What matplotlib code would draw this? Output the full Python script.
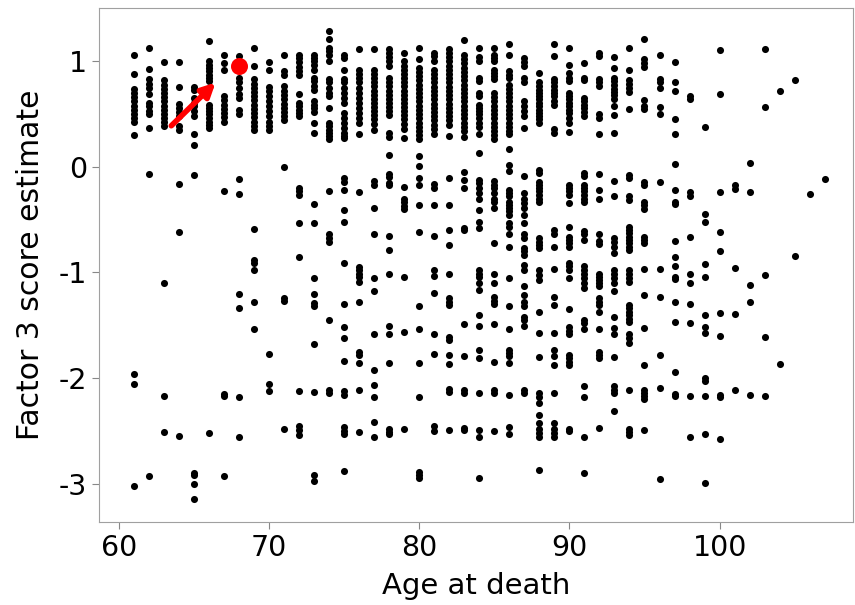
import matplotlib
matplotlib.use("Agg")
import matplotlib.pyplot as plt

plt.rcParams['axes.unicode_minus'] = False

# factor 3 score estimates, grouped by age at death
ages = list(range(61, 108))
scores = [
    [1.06, 0.88, 0.74, 0.70, 0.66, 0.62, 0.58, 0.54, 0.50, 0.46, 0.43, 0.30, -1.96, -2.06, -3.02],  # 61
    [1.125, 0.93, 0.83, 0.79, 0.75, 0.69, 0.61, 0.575, 0.53, 0.50, 0.37, -0.07, -2.93],  # 62
    [0.99, 0.82, 0.78, 0.74, 0.70, 0.66, 0.62, 0.58, 0.54, 0.50, 0.46, 0.43, 0.385, -1.10, -2.17, -2.51],  # 63
    [0.99, 0.755, 0.60, 0.56, 0.52, 0.48, 0.385, 0.35, -0.16, -0.62, -2.55],  # 64
    [0.76, 0.73, 0.65, 0.61, 0.575, 0.53, 0.48, 0.31, 0.21, -0.08, -2.90, -2.92, -3.0, -3.15],  # 65
    [1.19, 1.0, 0.97, 0.94, 0.91, 0.875, 0.84, 0.81, 0.59, 0.56, 0.53, 0.50, 0.46, 0.43, 0.40, 0.37, -2.52],  # 66
    [1.06, 0.985, 0.916, 0.67, 0.63, 0.59, 0.55, 0.51, 0.47, 0.43, -0.23, -2.15, -2.17, -2.93],  # 67
    [1.05, 0.84, 0.80, 0.75, 0.69, 0.65, 0.54, 0.50, -0.11, -0.255, -1.20, -1.34, -2.18, -2.56],  # 68
    [1.13, 0.96, 0.83, 0.79, 0.75, 0.71, 0.67, 0.63, 0.59, 0.55, 0.51, 0.47, 0.43, 0.39, 0.35,
     -0.59, -0.88, -0.91, -0.975, -1.28, -1.54],  # 69
    [0.99, 0.916, 0.76, 0.72, 0.67, 0.62, 0.58, 0.53, 0.48, 0.43, 0.39, 0.35, -1.77, -2.06, -2.12],  # 70
    [1.06, 0.91, 0.875, 0.765, 0.72, 0.68, 0.64, 0.60, 0.56, 0.52, 0.48, 0.44, 0.0, -1.245, -1.27, -2.48],  # 71
    [1.065, 1.03, 0.99, 0.95, 0.91, 0.875, 0.69, 0.61, 0.575, 0.54, 0.51, 0.48,
     -0.20, -0.23, -0.265, -0.53, -0.856, -2.12, -2.45, -2.49, -2.54],  # 72
    [1.065, 1.03, 1.0, 0.97, 0.92, 0.84, 0.81, 0.765, 0.73, 0.62, 0.59, 0.56, 0.52, 0.42, 0.32,
     -0.354, -0.527, -1.05, -1.20, -1.29, -1.32, -1.68, -2.13, -2.92, -2.98],  # 73
    [1.29, 1.21, 1.13, 1.10, 1.065, 1.0, 0.83, 0.80, 0.75, 0.70, 0.67, 0.56, 0.42, 0.385, 0.35, 0.32, 0.29, 0.26,
     -0.23, -0.64, -0.675, -0.71, -1.45, -2.11, -2.14],  # 74
    [1.065, 1.03, 0.92, 0.83, 0.80, 0.75, 0.70, 0.655, 0.61, 0.51, 0.46, 0.42, 0.37, 0.32, 0.29, 0.27,
     -0.107, -0.14, -0.22, -0.41, -0.52, -0.906, -1.30, -1.52, -1.62, -1.84, -2.12, -2.16, -2.46, -2.50, -2.53, -2.88],  # 75
    [1.12, 0.92, 0.88, 0.84, 0.80, 0.75, 0.70, 0.655, 0.61, 0.56, 0.51, 0.465, 0.42, 0.31,
     -0.24, -0.944, -0.975, -1.01, -1.04, -1.09, -1.276, -1.75, -1.78, -1.855, -2.11, -2.51],  # 76
    [1.12, 0.92, 0.88, 0.84, 0.805, 0.765, 0.72, 0.685, 0.645, 0.61, 0.565, 0.53, 0.49, 0.45, 0.41, 0.35,
     -0.136, -0.17, -0.39, -0.64, -1.055, -1.175, -1.58, -1.92, -2.07, -2.18, -2.42, -2.56],  # 77
    [1.12, 1.08, 1.04, 1.0, 0.96, 0.84, 0.805, 0.765, 0.72, 0.685, 0.645, 0.605, 0.565, 0.53, 0.49, 0.32, 0.28, 0.117,
     -0.07, -0.10, -0.148, -0.17, -0.65, -0.79, -1.01, -1.51, -1.58, -1.855, -2.48, -2.51, -2.53],  # 78
    [1.08, 1.0, 0.96, 0.92, 0.88, 0.84, 0.805, 0.765, 0.72, 0.685, 0.645, 0.61, 0.565, 0.53, 0.49, 0.45, 0.41, 0.36, 0.27,
     -0.19, -0.30, -0.33, -0.37, -0.40, -1.045, -1.56, -2.48],  # 79
    [1.13, 1.02, 0.94, 0.90, 0.86, 0.82, 0.78, 0.74, 0.70, 0.66, 0.62, 0.58, 0.54, 0.50, 0.46, 0.42, 0.38, 0.34, 0.30, 0.26,
     0.107, 0.006, -0.105, -0.17, -0.36, -0.62, -1.317, -1.54, -1.86, -2.18, -2.89, -2.92, -2.95],  # 80
    [1.08, 1.05, 1.0, 0.92, 0.88, 0.84, 0.80, 0.76, 0.72, 0.68, 0.64, 0.60, 0.56, 0.52, 0.48, 0.44, 0.40, 0.36, 0.31,
     -0.16, -0.20, -0.36, -0.65, -0.975, -1.03, -1.19, -1.58, -1.77, -2.45, -2.50],  # 81
    [1.12, 1.08, 1.04, 1.0, 0.96, 0.92, 0.88, 0.84, 0.80, 0.76, 0.72, 0.68, 0.64, 0.60, 0.56, 0.52, 0.48, 0.44, 0.40, 0.29,
     -0.107, -0.36, -0.60, -0.74, -1.01, -1.24, -1.275, -1.31, -1.61, -1.64, -1.78, -1.87, -2.10, -2.13, -2.49],  # 82
    [1.20, 1.06, 1.02, 0.98, 0.94, 0.90, 0.86, 0.82, 0.78, 0.74, 0.70, 0.66, 0.62, 0.58, 0.54, 0.50, 0.46, 0.42, 0.38, 0.34, 0.28,
     -0.05, -0.12, -0.20, -0.58, -0.60, -1.49, -1.79, -2.11, -2.14, -2.47, -2.49],  # 83
    [1.13, 1.04, 1.0, 0.84, 0.81, 0.70, 0.67, 0.59, 0.56, 0.53, 0.50, 0.46, 0.42, 0.38, 0.31, 0.13,
     -0.12, -0.155, -0.20, -0.25, -0.30, -0.41, -0.52, -0.58, -0.975, -1.01, -1.045, -1.10, -1.165, -1.40, -1.51,
     -1.735, -1.81, -2.14, -2.49, -2.56, -2.95],  # 84
    [1.13, 1.065, 1.03, 1.0, 0.92, 0.89, 0.86, 0.83, 0.70, 0.66, 0.62, 0.58, 0.54, 0.50, 0.46, 0.42, 0.38, 0.34, 0.30, 0.26,
     -0.136, -0.17, -0.20, -0.25, -0.30, -0.33, -0.39, -0.72, -1.013, -1.10, -1.23, -1.27, -1.30, -1.49,
     -1.845, -2.11, -2.145, -2.50],  # 85
    [1.16, 1.065, 0.91, 0.875, 0.84, 0.78, 0.74, 0.70, 0.66, 0.62, 0.58, 0.54, 0.50, 0.46, 0.42, 0.38, 0.34, 0.31, 0.17, 0.02,
     -0.04, -0.22, -0.25, -0.28, -0.33, -0.36, -0.39, -0.42, -0.455, -0.53, -0.565, -0.64, -0.76, -1.055, -1.32, -1.54,
     -1.73, -1.76, -1.79, -1.855, -2.16, -2.46, -2.53],  # 86
    [1.03, 0.995, 0.96, 0.84, 0.80, 0.62, 0.575, 0.53, 0.48, 0.37,
     -0.09, -0.25, -0.30, -0.34, -0.39, -0.455, -0.53, -0.64, -0.675, -0.77, -0.80, -0.83, -0.93, -0.975, -1.13, -1.21,
     -1.276, -1.32, -1.42, -1.45, -1.51, -2.11, -2.14],  # 87
    [0.89, 0.80, 0.77, 0.73, 0.70, 0.67, 0.64, 0.61, 0.58, 0.54, 0.51, 0.48, 0.45, 0.42,
     -0.028, -0.06, -0.14, -0.17, -0.20, -0.23, -0.27, -0.30, -0.33, -0.675, -0.71, -0.74, -0.77, -0.975, -1.02, -1.07,
     -1.37, -1.57, -1.80, -2.145, -2.18, -2.24, -2.35, -2.43, -2.48, -2.52, -2.56, -2.87],  # 88
    [1.16, 1.05, 0.83, 0.80, 0.765, 0.73, 0.70, 0.67, 0.62, 0.59, 0.36, 0.32,
     -0.60, -0.635, -0.76, -0.97, -1.23, -1.31, -1.57, -1.735, -1.79, -1.88, -2.14, -2.43, -2.48, -2.52, -2.56],  # 89
    [1.13, 0.97, 0.89, 0.84, 0.81, 0.70, 0.67, 0.64, 0.61, 0.575, 0.54, 0.51, 0.46, 0.42, 0.33,
     -0.17, -0.20, -0.23, -0.265, -0.34, -0.565, -0.66, -0.69, -0.72, -0.76, -0.91, -0.94, -0.975, -1.055, -1.35,
     -1.52, -1.55, -1.58, -1.78, -1.81, -1.845, -1.88, -2.48, -2.50],  # 90
    [0.98, 0.84, 0.82, 0.65, 0.62, 0.59, 0.56, 0.52, 0.48,
     -0.053, -0.085, -0.17, -0.20, -0.23, -0.265, -0.30, -0.33, -0.61, -0.64, -0.69, -0.94, -0.975, -1.01, -1.055,
     -1.10, -1.15, -1.45, -1.475, -1.54, -2.08, -2.18, -2.56, -2.90],  # 91
    [1.08, 1.05, 0.83, 0.80, 0.765, 0.50, 0.46, 0.31,
     -0.066, -0.22, -0.30, -0.635, -0.70, -0.73, -1.01, -1.04, -1.07, -1.10, -1.13, -1.24, -1.275, -1.31, -1.37, -1.54,
     -1.75, -1.78, -1.81, -2.47],  # 92
    [1.04, 0.94, 0.84, 0.81, 0.775, 0.74, 0.71, 0.68, 0.64, 0.575, 0.496, 0.32,
     -0.13, -0.28, -0.675, -0.71, -0.755, -0.82, -0.975, -1.015, -1.055, -1.095, -1.18, -1.42, -1.53, -1.58,
     -1.80, -2.08, -2.11, -2.14, -2.31],  # 93
    [1.13, 0.92, 0.82, 0.79, 0.75, 0.71, 0.55, -0.073, -0.104,
     -0.28, -0.31, -0.565, -0.60, -0.63, -0.66, -0.69, -0.72, -0.755, -0.786, -0.975, -1.01, -1.055, -1.087,
     -1.31, -1.34, -1.37, -1.40, -1.44, -1.47, -1.58, -1.62, -1.67, -2.11, -2.48, -2.51, -2.54],  # 94
    [1.21, 1.02, 0.985, 0.95, 0.63, 0.58, 0.55,
     -0.14, -0.17, -0.33, -0.36, -0.40, -0.66, -0.69, -0.72, -0.97, -1.21, -1.53, -1.88, -2.11, -2.14, -2.17, -2.20, -2.49],  # 95
    [1.06, 0.83, 0.80, 0.75, 0.565, 0.50, -0.145, -0.97, -1.235, -1.78, -2.09, -2.96],  # 96
    [0.995, 0.806, 0.717, 0.45, 0.316, 0.028, -0.218, -0.33, -0.35, -0.70, -0.85, -0.94, -1.045, -1.065,
     -1.276, -1.47, -1.94, -2.15, -2.17],  # 97
    [0.67, 0.64, -0.24, -0.275, -0.66, -1.014, -1.10, -1.30, -1.475, -2.17, -2.56],  # 98
    [0.38, -0.445, -0.52, -0.92, -1.045, -1.40, -1.52, -1.57, -2.00, -2.03, -2.17, -2.53, -2.99],  # 99
    [1.11, 0.695, -0.24, -0.62, -0.80, -1.38, -1.60, -2.16, -2.18, -2.58],  # 100
    [-0.17, -0.21, -0.96, -1.39, -2.11],  # 101
    [0.037, -0.24, -1.12, -1.276, -2.16],  # 102
    [1.12, 0.565, -1.02, -1.614, -2.17],  # 103
    [0.72, -1.87],  # 104
    [0.82, -0.84],  # 105
    [-0.255],  # 106
    [-0.114],  # 107
]

# highlighted subject
hl_age, hl_score = 68, 0.96

xs = [a for a, ys in zip(ages, scores) for _ in ys]
ys = [y for ys_ in scores for y in ys_]

fig = plt.figure(figsize=(8.55, 6.05), dpi=100)
ax = fig.add_axes([0.116, 0.137, 0.882, 0.85])

ax.scatter(xs, ys, s=26, color='black', linewidths=0, zorder=2)
ax.scatter([hl_age], [hl_score], s=150, color='red', linewidths=0, zorder=3)
ax.annotate('', xy=(66.45, 0.80), xytext=(63.5, 0.39),
            arrowprops=dict(arrowstyle='-|>,head_length=0.8,head_width=0.4', color='red', lw=4,
                            shrinkA=0, shrinkB=0), zorder=4)

ax.set_xlim(58.7, 108.9)
ax.set_ylim(-3.365, 1.507)
ax.set_xticks([60, 70, 80, 90, 100])
ax.set_yticks([1, 0, -1, -2, -3])
ax.tick_params(labelsize=20.5, length=5, color='#888888')
ax.set_xlabel('Age at death', fontsize=21, labelpad=7)
ax.set_ylabel('Factor 3 score estimate', fontsize=21.5, labelpad=10)
for sp in ax.spines.values():
    sp.set_color('#a0a0a0')

fig.savefig('out.png', dpi=100)
